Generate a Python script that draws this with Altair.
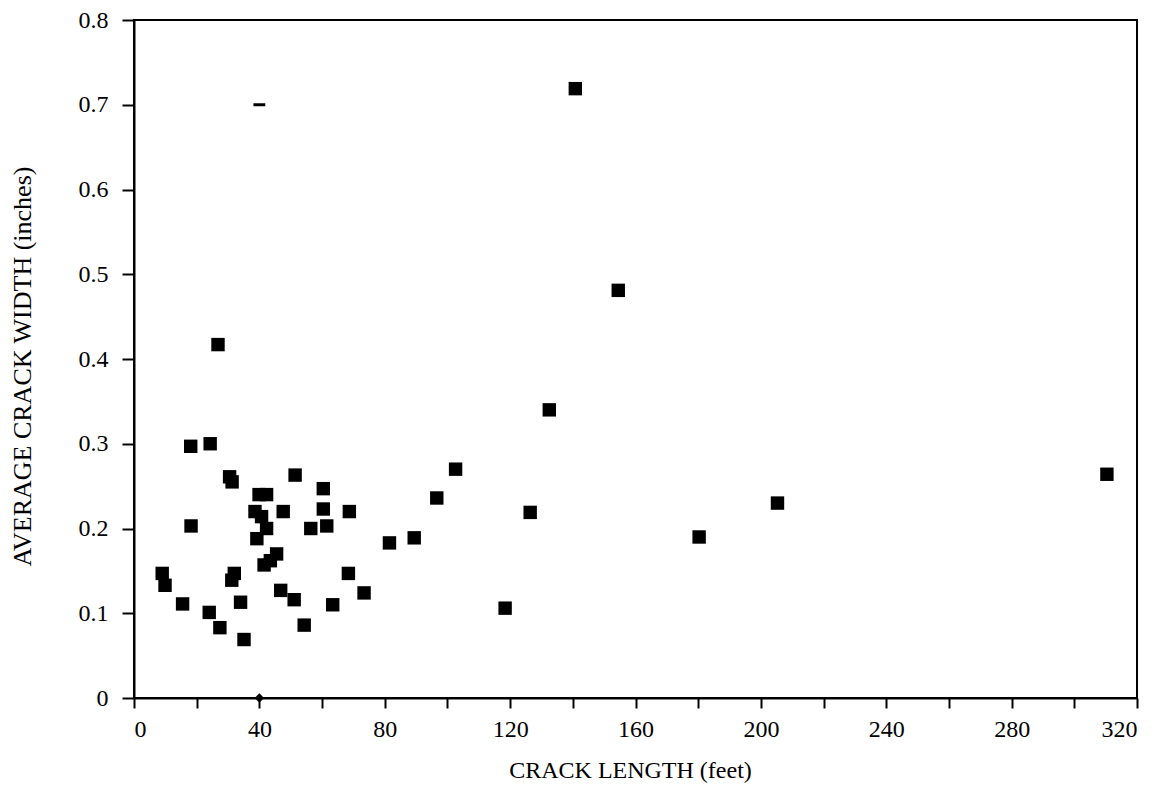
import altair as alt
import pandas as pd

# Crack length (feet) and average crack width (inches)
crack_length = [18.1, 24.3, 30.5, 31.3, 51.4, 60.4, 39.9, 42.3, 38.6, 40.7,
                47.6, 60.4, 68.7, 18.2, 42.3, 39.2, 56.4, 61.5, 45.5, 41.5,
                43.5, 32.0, 31.2, 9.0, 9.9, 68.4, 46.8, 51.1, 73.4, 15.5,
                34.0, 63.4, 24.0, 27.4, 54.3, 35.1, 26.8,
                132.5, 102.6, 96.6, 89.4, 81.5, 126.4, 118.4,
                140.8, 154.5, 180.3, 205.3, 310.4]
crack_width = [0.297, 0.300, 0.261, 0.255, 0.263, 0.247, 0.240, 0.240, 0.220, 0.214,
               0.220, 0.223, 0.220, 0.203, 0.200, 0.188, 0.200, 0.203, 0.170, 0.157,
               0.162, 0.147, 0.139, 0.147, 0.133, 0.147, 0.127, 0.116, 0.124, 0.111,
               0.113, 0.110, 0.101, 0.083, 0.086, 0.069, 0.417,
               0.340, 0.270, 0.236, 0.189, 0.183, 0.219, 0.106,
               0.719, 0.481, 0.190, 0.230, 0.264]

# Stray marks in the original figure
dash_x = [40]
dash_y = [0.70]
diamond_x = [40]
diamond_y = [0.0]

x_ticks = list(range(0, 321, 20))
y_ticks = [0, 0.1, 0.2, 0.3, 0.4, 0.5, 0.6, 0.7, 0.8]

df = pd.DataFrame({"x": crack_length, "y": crack_width})
df_dash = pd.DataFrame({"x": dash_x, "y": dash_y})
df_diamond = pd.DataFrame({"x": diamond_x, "y": diamond_y})

FONT = "Liberation Serif"

x_enc = alt.X(
    "x:Q",
    scale=alt.Scale(domain=[0, 320], nice=False, zero=False),
    axis=alt.Axis(
        values=x_ticks,
        labelExpr="datum.value % 40 == 0 ? datum.label : ''",
        title="CRACK LENGTH (feet)",
        titleX=496,
        titleY=72,
        titleBaseline="middle",
        tickSize=10,
        labelPadding=9,
    ),
)
y_enc = alt.Y(
    "y:Q",
    scale=alt.Scale(domain=[0, 0.8], nice=False, zero=False),
    axis=alt.Axis(
        values=y_ticks,
        labelExpr="datum.value == 0 ? '0' : format(datum.value, '.1f')",
        title="AVERAGE CRACK WIDTH (inches)",
        titleX=-112,
        titleY=346,
        titleBaseline="middle",
        titleAngle=-90,
        titleFontSize=26,
        tickSize=12,
        labelPadding=14,
    ),
)

points = alt.Chart(df).mark_square(size=180, color="black", opacity=1).encode(
    x=x_enc, y=y_enc
)
dash = alt.Chart(df_dash).mark_point(
    shape="M -1 0 L 1 0", size=140, color="black", strokeWidth=3, filled=False, opacity=1
).encode(x="x:Q", y="y:Q")
diamond = alt.Chart(df_diamond).mark_point(
    shape="diamond", size=90, color="black", filled=True, opacity=1
).encode(x="x:Q", y="y:Q")

chart = (
    alt.layer(points, dash, diamond)
    .properties(
        width=1003,
        height=678,
        autosize=alt.AutoSizeParams(type="none"),
        padding={"left": 126, "top": 12, "right": 16, "bottom": 90},
    )
    .configure_view(stroke="black", strokeWidth=2)
    .configure_axis(
        grid=False,
        domainColor="black",
        domainWidth=2,
        tickColor="black",
        tickWidth=2,
        labelFont=FONT,
        labelFontSize=24,
        labelColor="black",
        titleFont=FONT,
        titleFontSize=24,
        titleFontWeight="normal",
        titleColor="black",
    )
)

chart.save("out.html", embed_options={"renderer": "svg", "actions": False})
